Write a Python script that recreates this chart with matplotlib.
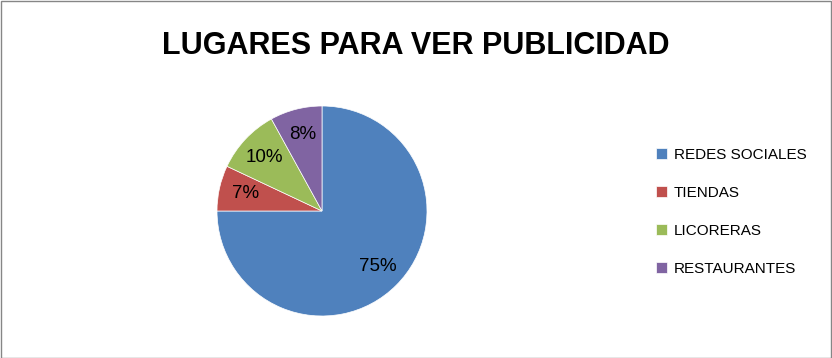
import matplotlib
matplotlib.use("Agg")
import matplotlib.pyplot as plt
from matplotlib.patches import Rectangle

categories = ["REDES SOCIALES", "TIENDAS", "LICORERAS", "RESTAURANTES"]
values = [75, 7, 10, 8]
colors = ["#4F81BD", "#C0504D", "#9BBB59", "#8064A2"]
title = "LUGARES PARA VER PUBLICIDAD"

plt.rcParams['font.family'] = ['Liberation Sans', 'DejaVu Sans']

W, H = 832, 358
fig = plt.figure(figsize=(W / 100, H / 100), dpi=100)
fig.patch.set_facecolor("white")

cx, cy, r = 322, 211, 105
ax = fig.add_axes([(cx - r) / W, (H - cy - r) / H, 2 * r / W, 2 * r / H])
wedges, texts, autotexts = ax.pie(
    values, colors=colors, startangle=90, counterclock=False,
    autopct=lambda p: f"{p:.0f}%", pctdistance=0.75, radius=1.0,
    wedgeprops=dict(linewidth=0.5, edgecolor="white"),
    textprops=dict(fontsize=13.5, color="#000000"))
ax.set_xlim(-1, 1)
ax.set_ylim(-1, 1)
ax.set_aspect("equal")
ax.axis("off")

fig.text(416 / W, 1 - 46 / H, title, ha="center", va="center",
         fontsize=22, fontweight="bold", color="#000000")

leg = fig.legend(wedges, categories, loc="center left",
                 bbox_to_anchor=(648 / W, 1 - 212 / H),
                 frameon=False, fontsize=11, handlelength=0.72,
                 handleheight=0.72, handletextpad=0.45, labelspacing=1.56,
                 borderpad=0)

fig.add_artist(Rectangle((0.5 / W, 0.5 / H), 1 - 1.5 / W, 1 - 1.5 / H,
                         transform=fig.transFigure, fill=False,
                         edgecolor="#868686", linewidth=1))

fig.savefig("out.png", dpi=100)
